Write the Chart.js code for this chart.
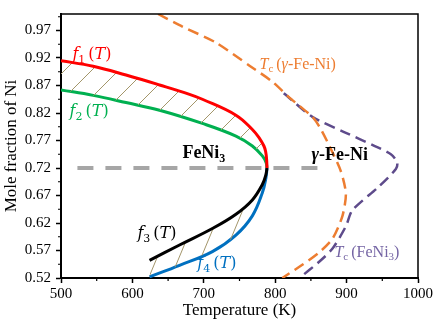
<!DOCTYPE html>
<html>
<head>
<meta charset="utf-8">
<script src="https://cdn.jsdelivr.net/npm/chart.js@4"></script>
<style>
  body { margin: 0; background: #fff; }
  #wrap { width: 437px; height: 324px; }
</style>
</head>
<body>
<div id="wrap"><canvas id="phase"></canvas></div>
<script>
// boundary curves, temperature (K) and mole fraction of Ni
const f1T = [500, 545, 591, 638, 680, 698, 745, 768, 778, 784.2, 786.6, 788, 788.5];
const f1X = [0.915, 0.905, 0.889, 0.871, 0.854, 0.845, 0.816, 0.790, 0.774, 0.760, 0.750, 0.735, 0.72];
const f2T = [500, 545, 591, 638, 698, 745, 768, 782, 787.2, 788.5];
const f2X = [0.862, 0.852, 0.839, 0.825, 0.801, 0.778, 0.760, 0.742, 0.730, 0.72];
const f3T = [624, 666, 712, 745, 768, 782, 787, 788.5];
const f3X = [0.552, 0.580, 0.610, 0.636, 0.662, 0.690, 0.708, 0.72];
const f4T = [624, 666, 712, 745, 768, 782, 787, 788.5];
const f4X = [0.522, 0.543, 0.568, 0.598, 0.633, 0.675, 0.702, 0.72];

// Curie temperatures
const tcGammaT = [636, 670, 717, 764, 796, 820, 852, 862, 876, 892, 899, 894, 880, 862, 838, 810];
const tcGammaX = [1.0, 0.977, 0.948, 0.906, 0.877, 0.848, 0.813, 0.795, 0.760, 0.714, 0.673, 0.632, 0.591, 0.567, 0.544, 0.52];
const tcFeNi3T = [812, 852, 899, 936, 962, 971, 969, 945, 908, 899, 880, 862, 834];
const tcFeNi3X = [0.856, 0.813, 0.784, 0.762, 0.745, 0.730, 0.718, 0.686, 0.643, 0.614, 0.573, 0.550, 0.52];

// FeNi3 composition line
const lineT = [523, 868];
const lineX = [0.72, 0.72];

const xTicks = [500, 600, 700, 800, 900, 1000];
const xMinor = [550, 650, 750, 850, 950];
const yTicks = [0.52, 0.57, 0.62, 0.67, 0.72, 0.77, 0.82, 0.87, 0.92, 0.97];
const yMinor = [0.545, 0.595, 0.645, 0.695, 0.745, 0.795, 0.845, 0.895, 0.945, 0.995];

const serif = '"Liberation Serif", "Times New Roman", serif';
const mathF = '"DejaVu Serif", serif';

function pts(t, x) {
  return t.map((v, i) => ({ x: v, y: x[i] }));
}

// hatch pattern for the two-phase regions
function hatch(w, h) {
  const c = document.createElement('canvas');
  c.width = w; c.height = h;
  const g = c.getContext('2d');
  g.strokeStyle = '#a3966a';
  g.lineWidth = 1;
  [-w, 0, w].forEach(o => {
    g.beginPath();
    g.moveTo(o, h);
    g.lineTo(o + w, 0);
    g.stroke();
  });
  return g.createPattern(c, 'repeat');
}

// text labels: [T, x, parts]
const labels = [
  [516, 0.919, [['f', 'italic 16px ' + mathF, '#ff0000'], ['1', '11px ' + mathF, '#ff0000', 4, 3], ['(', '16px ' + mathF, '#ff0000'], ['T', 'italic 16px ' + mathF, '#ff0000'], [')', '16px ' + mathF, '#ff0000']]],
  [512, 0.814, [['f', 'italic 16px ' + mathF, '#00b050'], ['2', '11px ' + mathF, '#00b050', 4, 3], ['(', '16px ' + mathF, '#00b050'], ['T', 'italic 16px ' + mathF, '#00b050'], [')', '16px ' + mathF, '#00b050']]],
  [607, 0.592, [['f', 'italic 16px ' + mathF, '#000'], ['3', '11px ' + mathF, '#000', 4, 3], ['(', '16px ' + mathF, '#000'], ['T', 'italic 16px ' + mathF, '#000'], [')', '16px ' + mathF, '#000']]],
  [691, 0.539, [['f', 'italic 16px ' + mathF, '#0070c0'], ['4', '11px ' + mathF, '#0070c0', 4, 3], ['(', '16px ' + mathF, '#0070c0'], ['T', 'italic 16px ' + mathF, '#0070c0'], [')', '16px ' + mathF, '#0070c0']]],
  [670, 0.739, [['FeNi', 'bold 18px ' + serif, '#000'], ['3', 'bold 12px ' + serif, '#000', 4]]],
  [851, 0.735, [['γ', 'bold italic 18px ' + serif, '#000'], ['-Fe-Ni', 'bold 18px ' + serif, '#000']]],
  [778, 0.900, [['T', 'italic 16px ' + serif, '#ed7d31'], ['c', '11px ' + serif, '#ed7d31', 3, 3], ['(', '16px ' + serif, '#ed7d31'], ['γ', 'italic 16px ' + serif, '#ed7d31'], ['-Fe-Ni)', '16px ' + serif, '#ed7d31']]],
  [883, 0.558, [['T', 'italic 16px ' + serif, '#7464a4'], ['c', '11px ' + serif, '#7464a4', 3, 3], ['(FeNi', '16px ' + serif, '#7464a4'], ['3', '11px ' + serif, '#7464a4', 3], [')', '16px ' + serif, '#7464a4']]]
];

const extras = {
  id: 'extras',
  afterDatasetsDraw(chart) {
    const { ctx, chartArea: a, scales: { x, y } } = chart;
    ctx.save();
    // frame on top and right
    ctx.strokeStyle = '#000';
    ctx.lineWidth = 1.5;
    ctx.beginPath();
    ctx.moveTo(a.left, a.top);
    ctx.lineTo(a.right, a.top);
    ctx.lineTo(a.right, a.bottom);
    ctx.stroke();
    // minor ticks
    ctx.lineWidth = 1.2;
    ctx.beginPath();
    xMinor.forEach(v => {
      const p = x.getPixelForValue(v);
      ctx.moveTo(p, a.bottom);
      ctx.lineTo(p, a.bottom + 3);
    });
    yMinor.forEach(v => {
      const p = y.getPixelForValue(v);
      ctx.moveTo(a.left - 3, p);
      ctx.lineTo(a.left, p);
    });
    ctx.stroke();
    // labels
    ctx.textBaseline = 'alphabetic';
    labels.forEach(([t, v, parts]) => {
      let px = x.getPixelForValue(t);
      const py = y.getPixelForValue(v);
      parts.forEach(([txt, font, color, dy, gap]) => {
        ctx.font = font;
        ctx.fillStyle = color;
        ctx.fillText(txt, px, py + (dy || 0));
        px += ctx.measureText(txt).width + (gap || 0);
      });
    });
    ctx.restore();
  }
};

function phaseChart() {
  const el = document.getElementById('phase');
  const upperHatch = hatch(27, 27);
  const lowerHatch = hatch(22, 53);

  new Chart(el, {
    type: 'scatter',
    data: {
      datasets: [
        { data: pts(f1T, f1X), borderColor: '#ff0000', borderWidth: 3, fill: '+1', backgroundColor: upperHatch, tension: 0.4 },
        { data: pts(f2T, f2X), borderColor: '#00b050', borderWidth: 3, tension: 0.4 },
        { data: pts(f3T, f3X), borderColor: '#000000', borderWidth: 3, fill: '+1', backgroundColor: lowerHatch, tension: 0.4 },
        { data: pts(f4T, f4X), borderColor: '#0070c0', borderWidth: 3, tension: 0.4 },
        { data: pts(tcGammaT, tcGammaX), borderColor: '#ed7d31', borderWidth: 2.5, borderDash: [11, 6], tension: 0.25 },
        { data: pts(tcFeNi3T, tcFeNi3X), borderColor: '#5e4b8b', borderWidth: 2.5, borderDash: [11, 6], tension: 0.25 },
        { data: pts(lineT, lineX), borderColor: '#a6a6a6', borderWidth: 4, borderDash: [16, 12] }
      ]
    },
    options: {
      responsive: true,
      maintainAspectRatio: false,
      animation: false,
      showLine: true,
      elements: { point: { radius: 0 } },
      layout: { padding: { top: 4, right: 19, left: 0, bottom: 0 } },
      plugins: { legend: { display: false }, tooltip: { enabled: false } },
      scales: {
        x: {
          type: 'linear', min: 500, max: 1000,
          afterBuildTicks: s => { s.ticks = xTicks.map(v => ({ value: v })); },
          afterFit: s => { s.height = 46; },
          grid: { drawOnChartArea: false, tickLength: 5, tickColor: '#000', tickWidth: 1.5 },
          border: { color: '#000', width: 2 },
          ticks: { color: '#000', font: { family: serif, size: 15 }, padding: 2, maxRotation: 0, callback: v => String(v) },
          title: { display: true, text: 'Temperature (K)', color: '#000', font: { family: serif, size: 17 }, padding: { top: 0, bottom: 3 } }
        },
        y: {
          type: 'linear', min: 0.52, max: 1.0,
          afterBuildTicks: s => { s.ticks = yTicks.map(v => ({ value: v })); },
          afterFit: s => { s.width = 61; },
          grid: { drawOnChartArea: false, tickLength: 5, tickColor: '#000', tickWidth: 1.5 },
          border: { color: '#000', width: 2 },
          ticks: { color: '#000', font: { family: serif, size: 15 }, padding: 5, callback: v => v.toFixed(2) },
          title: { display: true, text: 'Mole fraction of Ni', color: '#000', font: { family: serif, size: 17 }, padding: { top: 1, bottom: 0 } }
        }
      }
    },
    plugins: [extras]
  });
}

window.addEventListener('load', phaseChart);
</script>
</body>
</html>
